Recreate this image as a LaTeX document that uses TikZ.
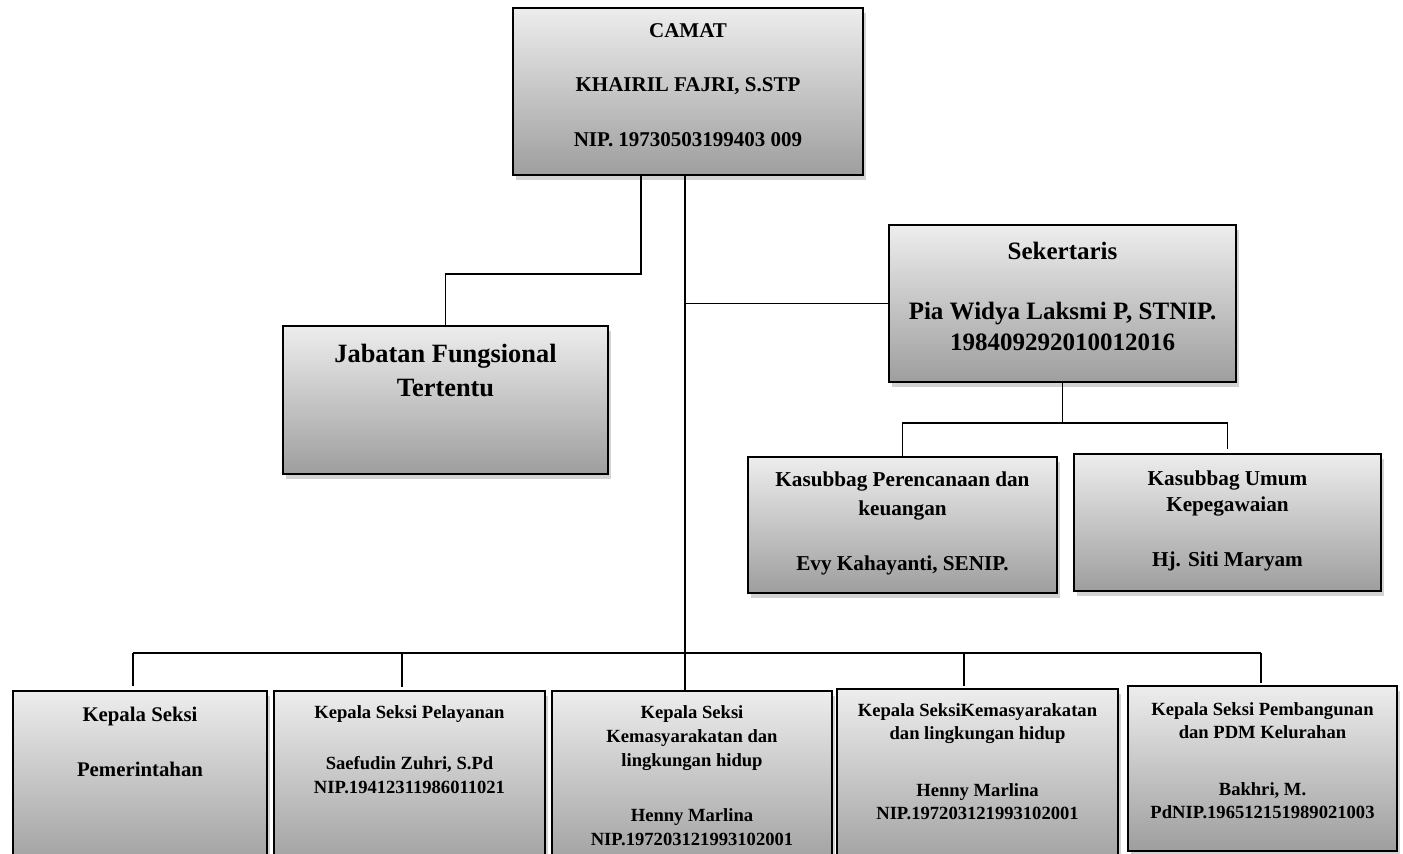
\documentclass[tikz,border=0pt]{standalone}
\usepackage{fontspec}
\setmainfont{Liberation Serif}
\usetikzlibrary{positioning,fit,shadows}

\begin{document}
\begin{tikzpicture}[x=.5pt, y=-.5pt,
    box/.style={draw, line width=1.1pt, inner sep=0pt, top color=black!7, bottom color=black!38,
                drop shadow={shadow xshift=1.5pt, shadow yshift=-2.5pt, opacity=.35}},
    txt/.style={inner sep=0pt, align=center},
    wire/.style={line width=.9pt}]
\useasboundingbox (0,0) rectangle (1403,853);

% kotak
\node[box, fit={(513,8) (863,175)}] (camat) {};
\node[box, fit={(283,326) (608,474)}] (jabatan) {};
\node[box, fit={(889,225) (1236,382)}] (sekre) {};
\node[box, fit={(748,457) (1057,593)}] (rencana) {};
\node[box, fit={(1074,454) (1381,591)}] (umum) {};
\node[box, fit={(13,691) (267,870)}] (seksiA) {};
\node[box, fit={(274,691) (545,870)}] (seksiB) {};
\node[box, fit={(552,691) (832,870)}] (seksiC) {};
\node[box, fit={(837,689) (1118,870)}] (seksiD) {};
\node[box, fit={(1128,686) (1397,851)}] (seksiE) {};

% teks
\node[txt, below=8pt of camat.north, font=\bfseries\fontsize{10.5}{27.3}\selectfont] (tcamat)
     {CAMAT\\KHAIRIL FAJRI, S.STP\\NIP. 19730503199403 009};
\node[txt, below=9.5pt of jabatan.north, font=\bfseries\fontsize{13.2}{17}\selectfont] (tjabatan)
     {Jabatan Fungsional\\Tertentu};
\node[txt, below=9pt of sekre.north, font=\bfseries\fontsize{12.5}{15.5}\selectfont] (tsekre)
     {Sekertaris\\[14.5pt]Pia Widya Laksmi P, STNIP.\\198409292010012016};
\node[txt, below=7.8pt of rencana.north, font=\bfseries\fontsize{10.6}{14.5}\selectfont] (trencana)
     {Kasubbag Perencanaan dan\\keuangan\\[13pt]Evy Kahayanti, SENIP.};
\node[txt, below=8.8pt of umum.north, font=\bfseries\fontsize{10.6}{13}\selectfont] (tumum)
     {Kasubbag Umum\\Kepegawaian\\[14.5pt]Hj. Siti Maryam};
\node[txt, below=8.5pt of seksiA.north, font=\bfseries\fontsize{10.4}{27.5}\selectfont] (tseksiA)
     {Kepala Seksi\\Pemerintahan};
\node[txt, below=7.5pt of seksiB.north, font=\bfseries\fontsize{9.3}{12}\selectfont] (tseksiB)
     {Kepala Seksi Pelayanan\\[13.5pt]Saefudin Zuhri, S.Pd\\NIP.19412311986011021};
\node[txt, below=7.5pt of seksiC.north, font=\bfseries\fontsize{9.3}{12}\selectfont] (tseksiC)
     {Kepala Seksi\\Kemasyarakatan dan\\lingkungan hidup\\[15.5pt]Henny Marlina\\NIP.197203121993102001};
\node[txt, below=7.7pt of seksiD.north, font=\bfseries\fontsize{9.3}{11.5}\selectfont] (tseksiD)
     {Kepala SeksiKemasyarakatan\\dan lingkungan hidup\\[17pt]Henny Marlina\\NIP.197203121993102001};
\node[txt, below=8.7pt of seksiE.north, font=\bfseries\fontsize{9.3}{11.5}\selectfont] (tseksiE)
     {Kepala Seksi Pembangunan\\dan PDM Kelurahan\\[17pt]Bakhri, M.\\PdNIP.196512151989021003};

% garis
\coordinate (fj) at (641,274);
\coordinate (trunk) at (685,653);
\coordinate (sbus) at (1063,423);
\coordinate (dA) at (133,653);
\coordinate (dB) at (402,653);
\coordinate (dD) at (964,653);
\coordinate (dE) at (1261,653);

\draw[wire] (fj |- camat.south) -- (fj) -| (jabatan.north);
\draw[wire] (trunk |- camat.south) -- (trunk |- seksiC.north);
\draw[wire] (trunk |- sekre.west) -- (sekre.west);
\draw[wire] (sekre.south) -- (sekre.south |- sbus);
\draw[wire] (rencana.north) |- (sbus);
\draw[wire, shorten >=2pt] (sbus) -| (umum.north);
\draw[wire] (dA) -- (dE);
\draw[wire, shorten >=2pt] (dA) -- (dA |- seksiA.north);
\draw[wire, shorten >=1.5pt] (dB) -- (dB |- seksiB.north);
\draw[wire, shorten >=1pt] (dD) -- (dD |- seksiD.north);
\draw[wire, shorten >=1pt] (dE) -- (dE |- seksiE.north);
\end{tikzpicture}
\end{document}
